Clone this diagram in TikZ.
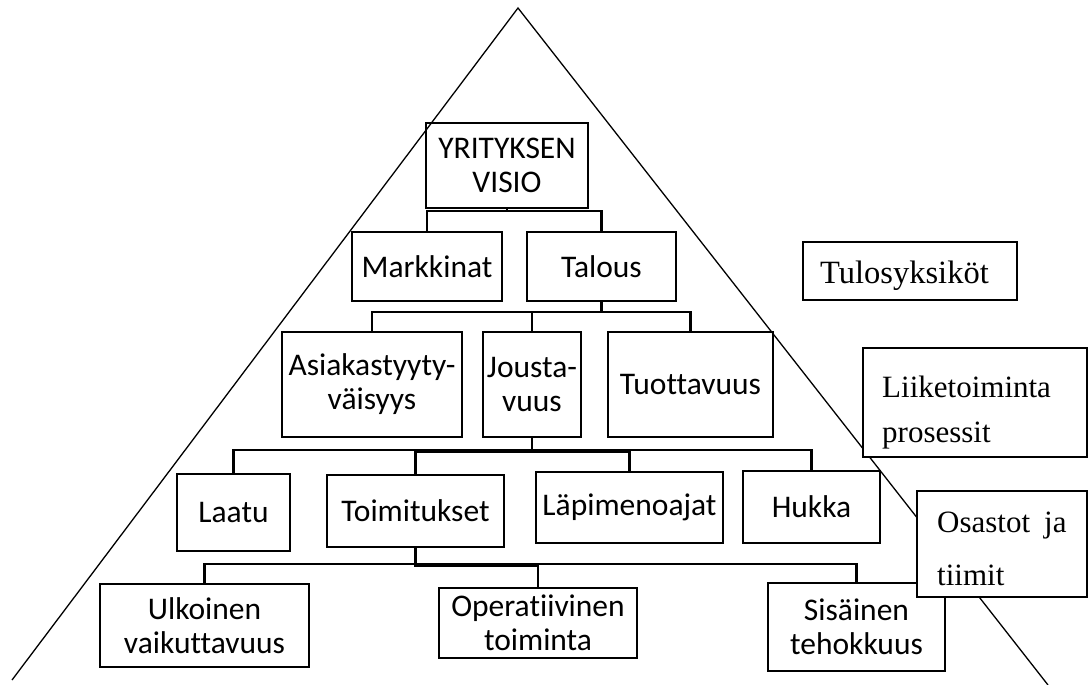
\documentclass[tikz,border=0pt]{standalone}
\usepackage{fontspec}
\setmainfont{Carlito}[Ligatures=NoCommon]
\newfontfamily\tnr{Liberation Serif}
\begin{document}
\begin{tikzpicture}[x=1pt,y=-1pt,
  org/.style={draw, line width=2.4pt, inner sep=0pt, align=center,
    font=\fontsize{31.5}{34}\selectfont},
  conn/.style={draw, line width=2.4pt, line cap=rect},
  tri/.style={draw, line width=1.3pt},
  infobox/.style={draw, line width=1.3pt, fill=white, inner sep=0pt},
  infotext/.style={anchor=base west, inner sep=0pt, font=\tnr\fontsize{31}{36}\selectfont}
]
\useasboundingbox (0,0) rectangle (1088,685);

% triangle
\coordinate (apex) at (518,8);
\coordinate (bl) at (12,680);
\coordinate (br) at (1048,685);
\draw[tri] (bl) -- (apex) -- (br);

% level 1
\node[org, minimum width=162, minimum height=85] (visio) at (507,165.5) {YRITYKSEN\\VISIO};
% level 2
\node[org, minimum width=150, minimum height=69] (mark) at (427,266.5) {Markkinat};
\node[org, minimum width=149, minimum height=69] (talous) at (601.5,266.5) {Talous};
% level 3
\node[org, minimum width=180, minimum height=105] (asiak) at (372,384.5) {Asiakastyyty-\\väisyys};
\node[org, minimum width=98, minimum height=105] (jousta) at (532,384.5) {Jousta-\\vuus};
\node[org, minimum width=165, minimum height=105] (tuott) at (690.5,384.5) {Tuottavuus};
% level 4
\node[org, minimum width=113, minimum height=77] (laatu) at (233.5,512.5) {Laatu};
\node[org, minimum width=177, minimum height=72] (toim) at (415.5,511) {Toimitukset};
\node[org, minimum width=187, minimum height=71] (lapi) at (629.5,507.5) {Läpimenoajat};
\node[org, minimum width=137, minimum height=72] (hukka) at (811.5,507) {Hukka};
% level 5
\node[org, minimum width=209, minimum height=83] (ulk) at (204.5,625.5) {Ulkoinen\\vaikuttavuus};
\node[org, minimum width=198, minimum height=70] (oper) at (538,623) {Operatiivinen\\toiminta};
\node[org, minimum width=177, minimum height=88] (sis) at (856.5,627) {Sisäinen\\tehokkuus};

% connectors
\draw[conn] (visio.south) -- ++(0,2) -| (mark.north);
\draw[conn] (visio.south) -- ++(0,2) -| (talous.north);
\draw[conn] (talous.south) -- ++(0,10) -| (asiak.north);
\draw[conn] (talous.south) -- ++(0,10) -| (jousta.north);
\draw[conn] (talous.south) -- ++(0,10) -| (tuott.north);
\draw[conn] (jousta.south) -- ++(0,12) -| (laatu.north);
\draw[conn] (jousta.south) -- ++(0,14) -| (toim.north);
\draw[conn] (jousta.south) -- ++(0,14) -| (lapi.north);
\draw[conn] (jousta.south) -- ++(0,12) -| (hukka.north);
\draw[conn] (toim.south) -- ++(0,16) -| (ulk.north);
\draw[conn] (toim.south) -- ++(0,18) -| (oper.north);
\draw[conn] (toim.south) -- ++(0,16) -| (sis.north);

% right-hand labels
\node[infobox, minimum width=214, minimum height=58] (tulos) at (910,271) {};
\node[infotext, font=\tnr\fontsize{32.5}{36}\selectfont] (tulost) at (820,283) {Tulosyksiköt};
\node[infobox, minimum width=224, minimum height=109] (liike) at (975,402.5) {};
\node[infotext] (liiket1) at (882,397) {Liiketoiminta};
\node[infotext] (liiket2) at (882,442) {prosessit};
\node[infobox, minimum width=170, minimum height=106] (osa) at (1002,544) {};
\node[infotext] (osat1) at (937,532) {Osastot\hspace{14pt}ja};
\node[infotext] (osat2) at (937,585) {tiimit};
\end{tikzpicture}
\end{document}
